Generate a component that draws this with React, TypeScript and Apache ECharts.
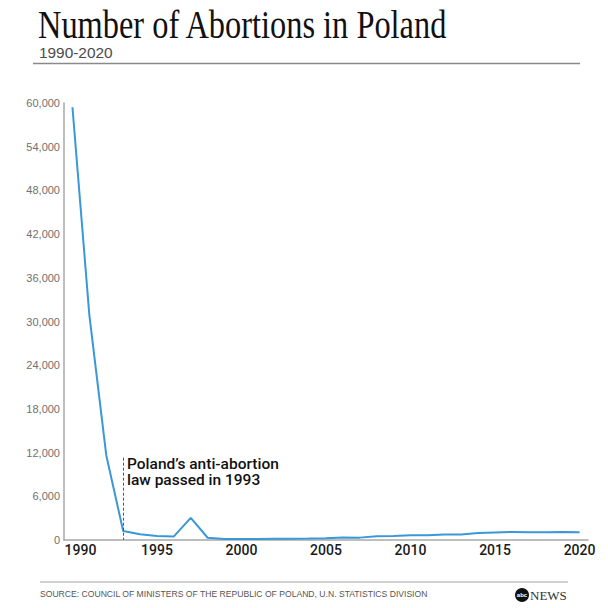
import React, { useEffect, useRef } from "react";
import * as echarts from "echarts";

const years = [
  "1990","1991","1992","1993","1994","1995","1996","1997","1998","1999",
  "2000","2001","2002","2003","2004","2005","2006","2007","2008","2009",
  "2010","2011","2012","2013","2014","2015","2016","2017","2018","2019","2020",
];
const abortions = [
  59417, 30878, 11640, 1240, 782, 559, 497, 3047, 310, 151,
  138, 124, 159, 174, 193, 225, 340, 326, 499, 538,
  641, 669, 752, 744, 971, 1040, 1098, 1057, 1076, 1110, 1076,
];
const lawYear = "1993";
const lawMarkerTop = 11300;
const yTicks = { min: 0, max: 60000, interval: 6000 };

const titleText = "Number of Abortions in Poland";
const subtitleText = "1990-2020";
const annotationLines = ["Poland\u2019s anti-abortion", "law passed in 1993"];
const sourceText =
  "SOURCE: COUNCIL OF MINISTERS OF THE REPUBLIC OF POLAND, U.N. STATISTICS DIVISION";

export default function App() {
  const ref = useRef<HTMLDivElement>(null);
  useEffect(() => {
    if (!ref.current) return;
    const chart = echarts.init(ref.current, undefined, { renderer: "svg" });
    chart.setOption({
      animation: false,
      backgroundColor: "#ffffff",
      grid: { left: 64, right: 20, top: 103, bottom: 68, containLabel: false },
      xAxis: {
        type: "category",
        data: years,
        boundaryGap: true,
        axisLine: { show: true, lineStyle: { color: "#a8a8a8", width: 1.5 } },
        axisTick: { show: false },
        splitLine: { show: false },
        axisLabel: {
          interval: 4,
          margin: 3,
          color: "#1a1a1a",
          fontSize: 14,
          fontWeight: 500,
          fontFamily: "Roboto",
          formatter: (v: string) => (v === years[0] ? `{first|${v}}` : v),
          rich: {
            first: {
              padding: [0, 0, 0, 16],
              color: "#1a1a1a",
              fontSize: 14,
              fontWeight: 500,
              fontFamily: "Roboto",
            },
          },
        },
      },
      yAxis: {
        type: "value",
        min: yTicks.min,
        max: yTicks.max,
        interval: yTicks.interval,
        axisLine: { show: true, lineStyle: { color: "#a8a8a8", width: 1.5 } },
        axisTick: { show: false },
        splitLine: { show: false },
        axisLabel: {
          margin: 4,
          color: "#707070",
          fontSize: 11,
          fontFamily: "Liberation Sans",
          formatter: (v: number) => v.toLocaleString("en-US"),
        },
      },
      series: [
        {
          type: "line",
          data: abortions,
          symbol: "none",
          lineStyle: { color: "#3a98d8", width: 2 },
          itemStyle: { color: "#3a98d8" },
          markLine: {
            silent: true,
            symbol: "none",
            label: { show: false },
            lineStyle: { color: "#555555", width: 1, type: [3, 2] },
            data: [[{ coord: [lawYear, lawMarkerTop] }, { coord: [lawYear, 0] }]],
          },
        },
      ],
      graphic: [
        {
          type: "text",
          x: 38,
          y: 24,
          scaleX: 0.79,
          style: {
            text: titleText,
            fontFamily: "Liberation Serif",
            fontSize: 41,
            fill: "#111111",
            verticalAlign: "middle",
            align: "left",
          },
        },
        {
          type: "text",
          x: 39,
          y: 53,
          scaleX: 1.1,
          style: {
            text: subtitleText,
            fontFamily: "Liberation Sans",
            fontSize: 14,
            fill: "#4a4a4a",
            verticalAlign: "middle",
            align: "left",
          },
        },
        {
          type: "line",
          shape: { x1: 33, y1: 63.5, x2: 580, y2: 63.5 },
          style: { stroke: "#8a8a8a", lineWidth: 1.5 },
        },
        {
          type: "text",
          x: 127,
          y: 463.5,
          style: {
            text: annotationLines[0],
            fontFamily: "Roboto",
            fontWeight: 500,
            fontSize: 15.5,
            lineHeight: 15,
            fill: "#111111",
            verticalAlign: "middle",
            align: "left",
          },
        },
        {
          type: "text",
          x: 127,
          y: 480,
          style: {
            text: annotationLines[1],
            fontFamily: "Roboto",
            fontWeight: 500,
            fontSize: 15.5,
            lineHeight: 15,
            fill: "#111111",
            verticalAlign: "middle",
            align: "left",
          },
        },
        {
          type: "line",
          shape: { x1: 40, y1: 582, x2: 568, y2: 582 },
          style: { stroke: "#d0d0d0", lineWidth: 2 },
        },
        {
          type: "text",
          x: 40,
          y: 594,
          style: {
            text: sourceText,
            fontFamily: "Liberation Sans",
            fontSize: 8.6,
            fill: "#555555",
            verticalAlign: "middle",
            align: "left",
          },
        },
        {
          type: "circle",
          shape: { cx: 522, cy: 595, r: 7 },
          style: { fill: "#111111" },
        },
        {
          type: "text",
          x: 522,
          y: 595,
          style: {
            text: "abc",
            fontFamily: "Liberation Sans",
            fontWeight: "bold",
            fontSize: 6,
            fill: "#ffffff",
            verticalAlign: "middle",
            align: "center",
          },
        },
        {
          type: "text",
          x: 530,
          y: 595,
          style: {
            text: "NEWS",
            fontFamily: "Liberation Serif",
            fontSize: 13,
            fill: "#333333",
            verticalAlign: "middle",
            align: "left",
          },
        },
      ],
    });
    return () => chart.dispose();
  }, []);
  return <div ref={ref} style={{ width: 608, height: 608, position: "absolute", left: 0, top: 0 }} />;
}
